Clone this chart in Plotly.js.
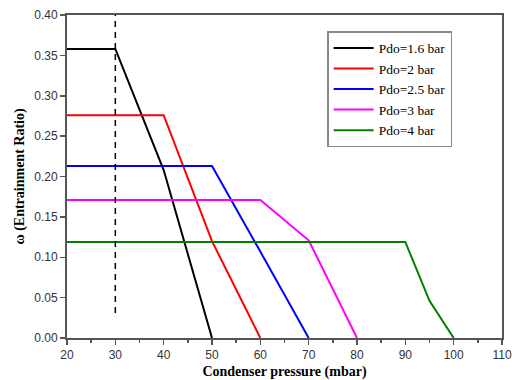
<!DOCTYPE html>
<html>
<head>
<meta charset="utf-8">
<script src="https://cdn.plot.ly/plotly-3.0.1.min.js"></script>
<style>html,body{margin:0;padding:0;background:#fff;}</style>
</head>
<body>
<div id="chart" style="width:512px;height:380px;"></div>
<script>
var seriesNames = ["Pdo=1.6 bar", "Pdo=2 bar", "Pdo=2.5 bar", "Pdo=3 bar", "Pdo=4 bar"];
var seriesColors = ["#000000", "#ff0000", "#0000ff", "#ff00ff", "#008000"];
var x16 = [20, 30, 40, 50];
var y16 = [0.358, 0.358, 0.208, 0.0];
var x2 = [20, 40, 50, 60];
var y2 = [0.276, 0.276, 0.12, 0.0];
var x25 = [20, 50, 60, 70];
var y25 = [0.213, 0.213, 0.107, 0.0];
var x3 = [20, 60, 70, 80];
var y3 = [0.171, 0.171, 0.121, 0.0];
var x4 = [20, 90, 95, 100];
var y4 = [0.119, 0.119, 0.046, 0.0];
var dashX = [30, 30];
var dashY = [0.031, 0.40];

var xs = [x16, x2, x25, x3, x4];
var ys = [y16, y2, y25, y3, y4];
var traces = [];
for (var i = 0; i < xs.length; i++) {
  traces.push({
    x: xs[i], y: ys[i], type: 'scatter', mode: 'lines', name: seriesNames[i],
    line: {color: seriesColors[i], width: 2}
  });
}
traces.push({
  x: dashX, y: dashY, type: 'scatter', mode: 'lines', showlegend: false,
  line: {color: '#000000', width: 1.5, dash: '6px,5px'}
});

var axisCommon = {
  showgrid: false, zeroline: false, showline: true, mirror: true,
  linecolor: '#555555', linewidth: 2, ticks: 'outside', ticklen: 5,
  tickcolor: '#555555', tickwidth: 1.5,
  tickfont: {family: 'Liberation Sans, Arial, sans-serif', size: 12, color: '#333333'}
};

var layout = {
  width: 512, height: 380,
  margin: {l: 67, r: 10, t: 15, b: 42},
  paper_bgcolor: '#ffffff', plot_bgcolor: '#ffffff',
  showlegend: true,
  legend: {
    x: 0.598, y: 0.95, xanchor: 'left', yanchor: 'top',
    bgcolor: '#ffffff', bordercolor: '#888888', borderwidth: 1.5,
    font: {family: 'Liberation Serif, Times New Roman, serif', size: 13.5, color: '#000000'},
    itemwidth: 40, tracegroupgap: 0
  },
  xaxis: Object.assign({}, axisCommon, {
    range: [20, 110], tickvals: [20, 30, 40, 50, 60, 70, 80, 90, 100, 110],
    minor: {tickvals: [25, 35, 45, 55, 65, 75, 85, 95, 105], ticks: 'outside', ticklen: 3, tickcolor: '#555555'},
    title: {text: '<b>Condenser pressure (mbar)</b>', standoff: 6,
      font: {family: 'Liberation Serif, Times New Roman, serif', size: 14, color: '#000000'}}
  }),
  yaxis: Object.assign({}, axisCommon, {
    range: [0, 0.40], tickvals: [0, 0.05, 0.10, 0.15, 0.20, 0.25, 0.30, 0.35, 0.40],
    tickformat: '.2f',
    title: {text: '<b>ω (Entrainment Ratio)</b>', standoff: 6,
      font: {family: 'Liberation Serif, Times New Roman, serif', size: 14, color: '#000000'}}
  })
};

Plotly.newPlot('chart', traces, layout, {displayModeBar: false, staticPlot: true});
</script>
</body>
</html>
